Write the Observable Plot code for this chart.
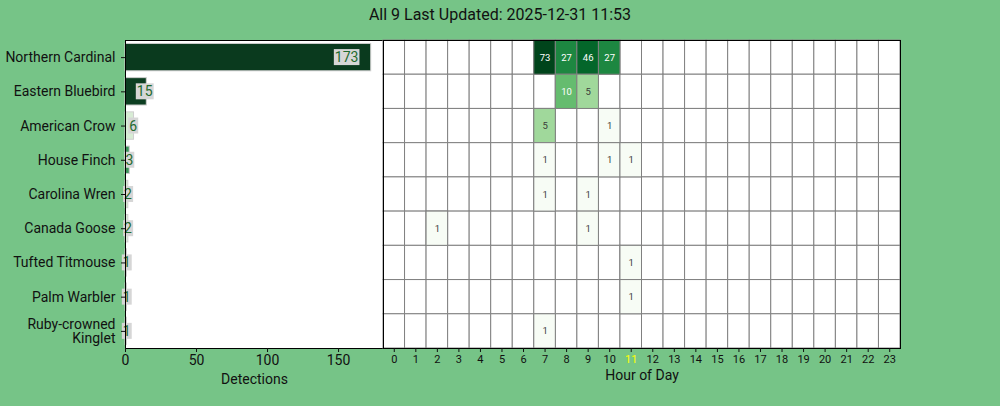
<!DOCTYPE html>
<html>
<head>
<meta charset="utf-8">
<script src="https://cdn.jsdelivr.net/npm/d3@7"></script>
<script src="https://cdn.jsdelivr.net/npm/@observablehq/plot@0.6"></script>
<style>
  html, body { margin: 0; padding: 0; }
  #chart {
    position: relative;
    width: 1000px;
    height: 406px;
    background: #76c487;
    font-family: Roboto, "Noto Sans", sans-serif;
    overflow: hidden;
  }
  #title {
    position: absolute;
    left: 0; top: 0;
    width: 1000px;
    height: 30px;
    line-height: 30px;
    text-align: center;
    font-size: 16px;
    color: #111;
  }
  #left, #right { position: absolute; top: 30px; }
  #left { left: 0; }
  #right { left: 383px; }
  #chart svg { overflow: visible; background: transparent; }
</style>
</head>
<body>
<div id="chart">
  <div id="title"></div>
  <div id="left"></div>
  <div id="right"></div>
</div>
<script>
// Detections per species
const titleText = "All 9 Last Updated: 2025-12-31 11:53";
const species = [
  "Northern Cardinal",
  "Eastern Bluebird",
  "American Crow",
  "House Finch",
  "Carolina Wren",
  "Canada Goose",
  "Tufted Titmouse",
  "Palm Warbler",
  "Ruby-crowned Kinglet"
];
const detections = [173, 15, 6, 3, 2, 2, 1, 1, 1];

// Detections per hour of day, as [hour, count] pairs for each species
const hourlyCounts = [
  [[7, 73], [8, 27], [9, 46], [10, 27]],
  [[8, 10], [9, 5]],
  [[7, 5], [10, 1]],
  [[7, 1], [10, 1], [11, 1]],
  [[7, 1], [9, 1]],
  [[2, 1], [9, 1]],
  [[11, 1]],
  [[11, 1]],
  [[7, 1]]
];
const hours = [0, 1, 2, 3, 4, 5, 6, 7, 8, 9, 10, 11, 12, 13, 14, 15, 16, 17, 18, 19, 20, 21, 22, 23];
const currentHour = 11;

document.getElementById("title").textContent = titleText;

const totals = species.map((s, i) => ({species: s, count: detections[i]}));
const cells = species.flatMap((s, i) => hourlyCounts[i].map(([hour, count]) => ({species: s, hour, count})));
const grid = species.flatMap(s => hours.map(hour => ({species: s, hour})));

const wrapName = s => s === "Ruby-crowned Kinglet" ? "Ruby-crowned\nKinglet" : s;

const PLOT_H = 376, M_TOP = 10, M_BOTTOM = 58;

// Left panel: horizontal bars of total detections
const left = Plot.plot({
  width: 384,
  height: PLOT_H,
  marginLeft: 125,
  marginRight: 1,
  marginTop: M_TOP,
  marginBottom: M_BOTTOM,
  style: {fontFamily: "Roboto, sans-serif", background: "transparent", color: "#111"},
  x: {domain: [0, 173 * 1.05], axis: null},
  y: {domain: species, paddingInner: 0.2, paddingOuter: 0.1, round: false, axis: null},
  color: {
    domain: species,
    range: ["#0a3a1e", "#0c3e21", "#d8ecd5", "#3a935a", "#d4e8d0", "#dfeedd", "#c8e3c5", "#c8e3c5", "#c8e3c5"]
  },
  marks: [
    Plot.frame({fill: "white", stroke: null}),
    Plot.barX(totals, {x: "count", y: "species", fill: "species", stroke: "#cfcfcf", strokeWidth: 1}),
    Plot.text(totals, {
      x: d => d.count * 0.9, y: "species", text: d => String(d.count),
      fill: "#1f6b2e", fontSize: 14, textAnchor: "middle"
    }),
    Plot.frame({stroke: "black", strokeWidth: 1}),
    Plot.axisX({ticks: [0, 50, 100, 150], tickSize: 4, tickPadding: 3, fontSize: 14, label: null}),
    Plot.axisY({tickSize: 4, tickPadding: 6, fontSize: 14, tickFormat: wrapName, label: null}),
    Plot.text(["Detections"], {text: d => d, frameAnchor: "bottom", dy: 35, fontSize: 14, fill: "#111"})
  ]
});
document.getElementById("left").appendChild(left);

// Right panel: species x hour heatmap
const right = Plot.plot({
  width: 617,
  height: PLOT_H,
  marginLeft: 0,
  marginRight: 100,
  marginTop: M_TOP,
  marginBottom: M_BOTTOM,
  style: {fontFamily: "Roboto, sans-serif", background: "transparent", color: "#111"},
  x: {domain: hours, padding: 0, round: false, axis: null},
  y: {domain: species, padding: 0, round: false, axis: null},
  color: {type: "log", scheme: "greens", domain: [1, 73]},
  marks: [
    Plot.frame({fill: "white", stroke: null}),
    Plot.cell(grid, {x: "hour", y: "species", fill: "white", stroke: "#808080", strokeWidth: 1, inset: 0}),
    Plot.cell(cells, {x: "hour", y: "species", fill: "count", stroke: "#808080", strokeWidth: 1, inset: 0}),
    Plot.text(cells.filter(d => d.count >= 10), {x: "hour", y: "species", text: d => String(d.count), fill: "white", fontSize: 9.5}),
    Plot.text(cells.filter(d => d.count < 10), {x: "hour", y: "species", text: d => String(d.count), fill: "#3a3a3a", fontSize: 9.5}),
    Plot.frame({stroke: "black", strokeWidth: 1}),
    Plot.axisX({ticks: hours, tickSize: 4, tickPadding: 3, fontSize: 11, label: null,
      tickFormat: d => d === currentHour ? "" : String(d)}),
    Plot.axisX([currentHour], {tickSize: 0, tickPadding: 7, fontSize: 11, fill: "#ffff00", label: null}),
    Plot.text(["Hour of Day"], {text: d => d, frameAnchor: "bottom", dy: 31, fontSize: 14, fill: "#111"})
  ]
});
document.getElementById("right").appendChild(right);

// Light grey boxes behind the bar value labels (first text mark of the left panel)
const valueGroup = left.querySelector('g[aria-label="text"]');
valueGroup.querySelectorAll("text").forEach(t => {
  const b = t.getBBox();
  const r = document.createElementNS("http://www.w3.org/2000/svg", "rect");
  r.setAttribute("x", b.x - 1);
  r.setAttribute("y", b.y);
  r.setAttribute("width", b.width + 2);
  r.setAttribute("height", b.height);
  r.setAttribute("fill", "#d6d6d6");
  const tr = t.getAttribute("transform");
  if (tr) r.setAttribute("transform", tr);
  t.parentNode.insertBefore(r, t);
});
</script>
</body>
</html>
